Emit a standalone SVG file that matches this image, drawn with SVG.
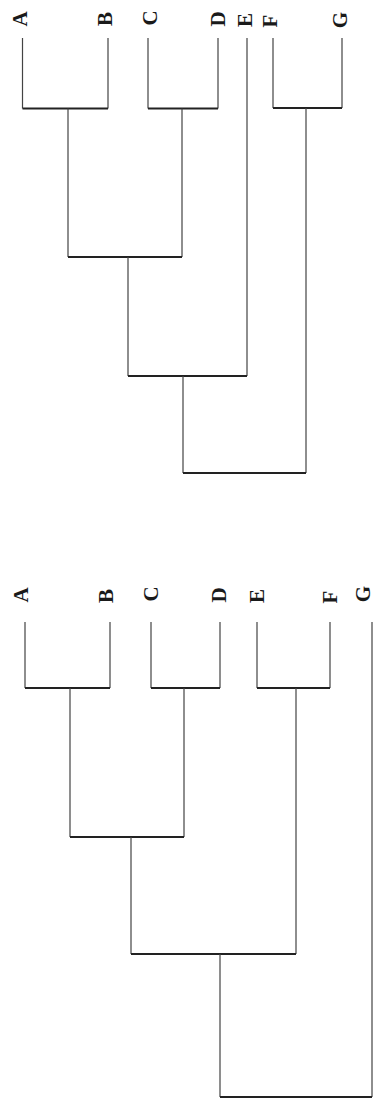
<svg xmlns="http://www.w3.org/2000/svg" width="376" height="1108" viewBox="0 0 376 1108">
<style>
.lbl{font-family:"Liberation Serif",serif;font-size:21px;font-weight:bold;fill:#1a1a1a;text-anchor:middle}
.v{stroke:#444;stroke-width:1.2;fill:none}
.h{stroke:#222;stroke-width:2;fill:none}
</style>
<rect width="376" height="1108" fill="#fff"/>
<g id="tree1">
<g id="t1-A"><text class="lbl" transform="translate(27,19) rotate(-90)">A</text></g>
<g id="t1-B"><text class="lbl" transform="translate(112,19) rotate(-90)">B</text></g>
<g id="t1-C"><text class="lbl" transform="translate(157,18) rotate(-90)">C</text></g>
<g id="t1-D"><text class="lbl" transform="translate(225,19) rotate(-90)">D</text></g>
<g id="t1-E"><text class="lbl" transform="translate(252,20) rotate(-90)">E</text></g>
<g id="t1-F"><text class="lbl" transform="translate(277,21) rotate(-90)">F</text></g>
<g id="t1-G"><text class="lbl" transform="translate(347,20) rotate(-90)">G</text></g>
<g id="t1-connectors">
<path class="v" d="M22.5,38V108.5M108,38V108.5M148,38V108.5M218,38V108.5M273,38V108M342,38V108"/>
<path class="h" d="M22.5,108.5H108M148,108.5H218M273,108H342"/>
<path class="v" d="M68,108.5V257M182,108.5V257"/>
<path class="h" d="M68,257H182"/>
<path class="v" d="M128,257V376M247,38V376"/>
<path class="h" d="M128,376H247"/>
<path class="v" d="M183,376V473M306,108V473"/>
<path class="h" d="M183,473H306"/>
</g>
</g>
<g id="tree2">
<g id="t2-A"><text class="lbl" transform="translate(28,595) rotate(-90)">A</text></g>
<g id="t2-B"><text class="lbl" transform="translate(113,596) rotate(-90)">B</text></g>
<g id="t2-C"><text class="lbl" transform="translate(158,594) rotate(-90)">C</text></g>
<g id="t2-D"><text class="lbl" transform="translate(226,595) rotate(-90)">D</text></g>
<g id="t2-E"><text class="lbl" transform="translate(264,596) rotate(-90)">E</text></g>
<g id="t2-F"><text class="lbl" transform="translate(337,597) rotate(-90)">F</text></g>
<g id="t2-G"><text class="lbl" transform="translate(370,594) rotate(-90)">G</text></g>
<g id="t2-connectors">
<path class="v" d="M25,622V688M110,622V688M151,622V688M220,622V688M257,622V688M330,622V688"/>
<path class="h" d="M25,688H110M151,688H220M257,688H330"/>
<path class="v" d="M70,688V837M184,688V837"/>
<path class="h" d="M70,837H184"/>
<path class="v" d="M131,837V954M296,688V954"/>
<path class="h" d="M131,954H296"/>
<path class="v" d="M220,954V1097M372,622V1097"/>
<path class="h" d="M220,1097H372"/>
</g>
</g>
</svg>
